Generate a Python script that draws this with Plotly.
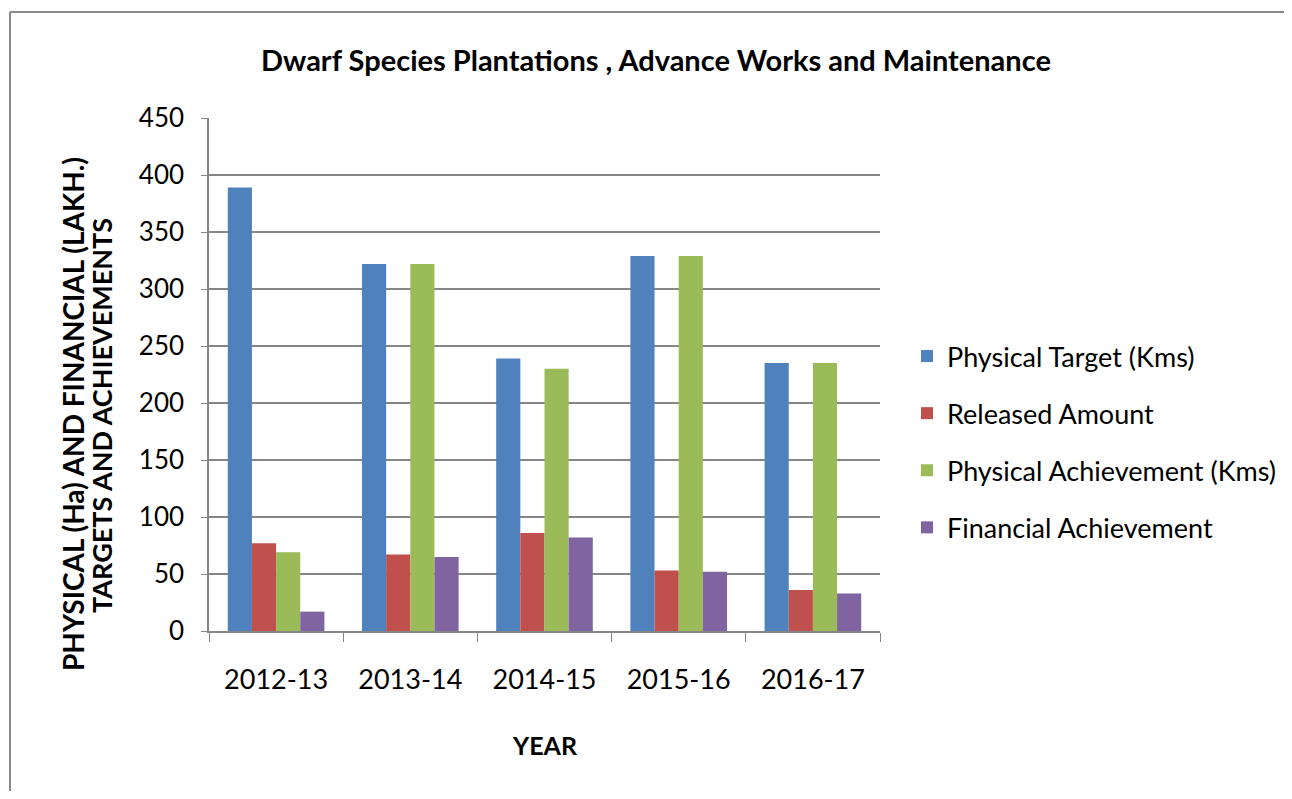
import plotly.graph_objects as go

years = ["2012-13", "2013-14", "2014-15", "2015-16", "2016-17"]
physical_target = [389, 322, 239, 329, 235]
released_amount = [77, 67, 86, 53, 36]
physical_achievement = [69, 322, 230, 329, 235]
financial_achievement = [17, 65, 82, 52, 33]

series = [
    ("Physical Target (Kms)", physical_target, "#4F81BD"),
    ("Released Amount", released_amount, "#C0504D"),
    ("Physical Achievement (Kms)", physical_achievement, "#9BBB59"),
    ("Financial Achievement", financial_achievement, "#8064A2"),
]

OFF = 8  # default page body margin
W, H = 1292 - 2 * OFF, 799 - 2 * OFF
L, R, T, B = 209, 880, 118, 631  # plot area in page pixels

def px(xp):
    return (xp - L) / (R - L)

def py(yp):
    return (B - yp) / (B - T)

FONT = "Lato"
GRID = "#868686"

fig = go.Figure()
for i, (name, vals, col) in enumerate(series):
    fig.add_trace(go.Bar(x=years, y=vals, name=name, marker=dict(color=col, line=dict(width=0)),
                         legendgroup=f"g{i}"))

fig.update_layout(
    width=W, height=H,
    margin=dict(l=L - OFF, r=W - (R - OFF), t=T - OFF, b=H - (B - OFF), autoexpand=False),
    paper_bgcolor="white", plot_bgcolor="white",
    barmode="group", bargap=0.28, bargroupgap=0,
    font=dict(family=FONT, color="#000000"),
    showlegend=True,
    legend=dict(x=px(907), y=py(442), xanchor="left", yanchor="middle",
                font=dict(size=27, family=FONT, color="#000000"),
                traceorder="grouped", tracegroupgap=19, itemwidth=30),
    xaxis=dict(showgrid=False, showline=True, linecolor=GRID, linewidth=1.5,
               ticks="outside", tickson="boundaries", ticklen=9, tickcolor=GRID,
               tickfont=dict(size=27, family=FONT, color="#000000"), ticklabelstandoff=24),
    yaxis=dict(range=[0, 450], dtick=50, showgrid=True, gridcolor=GRID, gridwidth=1.5,
               showline=True, linecolor=GRID, linewidth=1.5,
               ticks="outside", ticklen=6, tickcolor=GRID, zeroline=False,
               tickfont=dict(size=26, family=FONT, color="#000000"), ticklabelstandoff=12),
)

def note(text, x, y, size, angle=0):
    fig.add_annotation(text=text, x=px(x), y=py(y), xref="paper", yref="paper",
                       xanchor="center", yanchor="middle", showarrow=False, textangle=angle,
                       font=dict(size=size, family=FONT, color="#000000"))

note("<b>Dwarf Species Plantations , Advance Works and Maintenance</b>", 656, 60, 29)
note("<b>YEAR</b>", 545, 745, 25)
note("<b>PHYSICAL (Ha) AND FINANCIAL (LAKH.)</b>", 73, 414, 28, -90)
note("<b>TARGETS AND ACHIEVEMENTS</b>", 101, 416, 27, -90)

fig.add_shape(type="line", xref="paper", yref="paper", x0=px(10), x1=px(1300), y0=py(12), y1=py(12),
              line=dict(color="#8a8a8a", width=2))
fig.add_shape(type="line", xref="paper", yref="paper", x0=px(10), x1=px(10), y0=py(12), y1=py(810),
              line=dict(color="#8a8a8a", width=2))

fig.write_html("out.html")
